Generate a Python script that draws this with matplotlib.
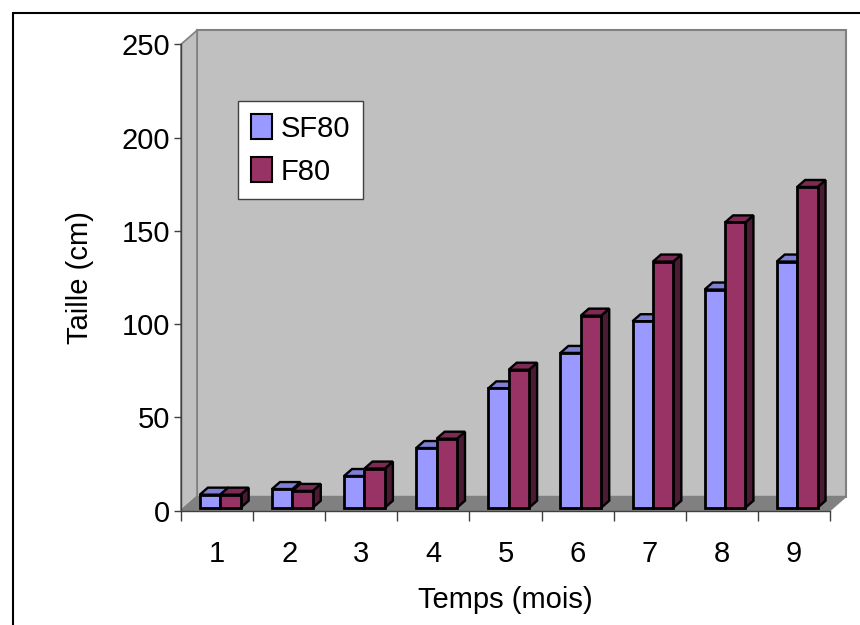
import matplotlib

matplotlib.use("Agg")

import matplotlib.pyplot as plt
from matplotlib.patches import Patch, Polygon, Rectangle

months = [1, 2, 3, 4, 5, 6, 7, 8, 9]
sf80 = [7, 10, 17, 32, 64, 83, 100, 117, 132]
f80 = [7, 9, 21, 37, 74, 103, 132, 153, 172]
y_ticks = [0, 50, 100, 150, 200, 250]

# excel-ish 3d look: depth of the floor in data units, bars sit between 20% and 70% of it
DEPTH_X = 0.222
DEPTH_Y = 7.5
BAR_FRONT = 0.2
BAR_BACK = 0.7
BAR_W = 0.283

SF_FRONT, SF_TOP, SF_SIDE = "#9999ff", "#7f7fd4", "#6666aa"
F_FRONT, F_TOP, F_SIDE = "#993366", "#7d2a55", "#4c1a33"
WALL = "#c0c0c0"
FLOOR = "#808080"
FONT_SIZE = 21

plt.rcParams["font.family"] = ["Liberation Sans", "DejaVu Sans"]

fig = plt.figure(figsize=(8.6, 6.25), dpi=100)
W, H = 860, 625
ax = fig.add_axes([181 / W, 1 - 510.5 / H, (830 - 181) / W, (510.5 - 44.3) / H])
ax.set_xlim(0.5, 9.5)
ax.set_ylim(0, 250)
ax.set_facecolor("none")

# outer frame of the chart area
fig.patches.append(Rectangle((13 / W, -0.1), 1.2, 1.1 - 12.5 / H, transform=fig.transFigure,
                             fill=False, edgecolor="black", linewidth=1.5))

x0, x1 = ax.get_xlim()
y0, y1 = ax.get_ylim()

# back wall, left wall, floor
ax.add_patch(Rectangle((x0 + DEPTH_X, y0 + DEPTH_Y), x1 - x0, y1 - y0, facecolor=WALL,
                       edgecolor=FLOOR, linewidth=1.5, clip_on=False, zorder=1))
ax.add_patch(Polygon([(x0, y0), (x0, y1), (x0 + DEPTH_X, y1 + DEPTH_Y), (x0 + DEPTH_X, y0 + DEPTH_Y)],
                     closed=True, facecolor=WALL, edgecolor=FLOOR, linewidth=1.2, clip_on=False, zorder=1))
ax.add_patch(Polygon([(x0, y0), (x1, y0), (x1 + DEPTH_X, y0 + DEPTH_Y), (x0 + DEPTH_X, y0 + DEPTH_Y)],
                     closed=True, facecolor=FLOOR, edgecolor=FLOOR, linewidth=1.0, clip_on=False, zorder=1.5))


def draw_bar(x_left, value, front, top, side):
    bx = BAR_FRONT * DEPTH_X
    by = BAR_FRONT * DEPTH_Y
    dx = (BAR_BACK - BAR_FRONT) * DEPTH_X
    dy = (BAR_BACK - BAR_FRONT) * DEPTH_Y
    xl = x_left + bx
    xr = xl + BAR_W
    yt = by + value
    ax.add_patch(Polygon([(xr, by), (xr, yt), (xr + dx, yt + dy), (xr + dx, by + dy)], closed=True,
                         facecolor=side, edgecolor="black", linewidth=1.7, joinstyle="miter",
                         clip_on=False, zorder=3))
    ax.add_patch(Polygon([(xl, yt), (xr, yt), (xr + dx, yt + dy), (xl + dx, yt + dy)], closed=True,
                         facecolor=top, edgecolor="black", linewidth=1.7, joinstyle="miter",
                         clip_on=False, zorder=3))
    ax.bar(xl, value, width=BAR_W, bottom=by, align="edge", color=front, edgecolor="black",
           linewidth=2.0, clip_on=False, zorder=3)


for m, a, b in zip(months, sf80, f80):
    draw_bar(m - BAR_W, a, SF_FRONT, SF_TOP, SF_SIDE)
    draw_bar(m, b, F_FRONT, F_TOP, F_SIDE)

for side in ["top", "right"]:
    ax.spines[side].set_visible(False)
for side in ["left", "bottom"]:
    ax.spines[side].set_color("#404040")
    ax.spines[side].set_linewidth(1.0)
    ax.spines[side].set_zorder(2)

ax.set_xticks(months)
ax.set_xticklabels([str(m) for m in months])
ax.set_xticks([m - 0.5 for m in months] + [months[-1] + 0.5], minor=True)
ax.tick_params(axis="x", which="major", length=0, pad=21, labelsize=FONT_SIZE)
ax.tick_params(axis="x", which="minor", length=7, width=1.0, color="#404040", direction="out")
ax.set_yticks(y_ticks)
ax.tick_params(axis="y", which="major", length=5, width=1.0, color="#404040", pad=3, labelsize=FONT_SIZE)

ax.set_xlabel("Temps (mois)", fontsize=FONT_SIZE)
ax.xaxis.set_label_coords((505 - 181) / 649, -(600 - 510.5) / 466.2)
ax.xaxis.label.set_va("center")
ax.set_ylabel("Taille (cm)", fontsize=FONT_SIZE)
ax.yaxis.set_label_coords((80 - 181) / 649, (510.5 - 278) / 466.2)
ax.yaxis.label.set_va("center")

handles = [Patch(facecolor=SF_FRONT, edgecolor="black", linewidth=1.5, label="SF80"),
           Patch(facecolor=F_FRONT, edgecolor="black", linewidth=1.5, label="F80")]
leg = ax.legend(handles=handles, loc="upper left", bbox_to_anchor=(238 / W, 1 - 101 / H),
                bbox_transform=fig.transFigure, borderaxespad=0, fancybox=False, framealpha=1,
                edgecolor="#404040", fontsize=FONT_SIZE, handlelength=0.7, handleheight=0.95,
                handletextpad=0.3, labelspacing=0.5, borderpad=0.45)
leg.get_frame().set_linewidth(1.0)
leg.set_zorder(5)

fig.savefig("out.png", dpi=100)
